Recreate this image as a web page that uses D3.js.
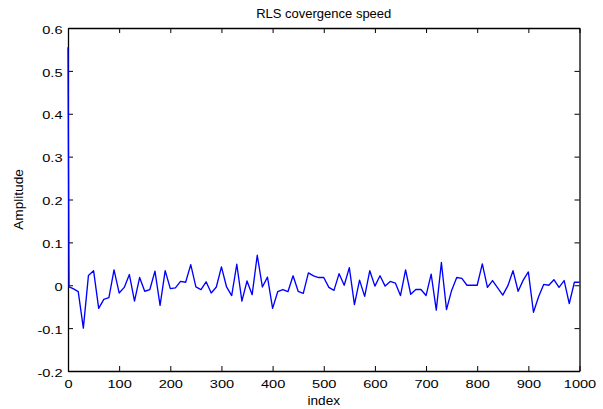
<!DOCTYPE html>
<html>
<head>
<meta charset="utf-8">
<script src="https://cdn.jsdelivr.net/npm/d3@7"></script>
<style>
  html, body { margin: 0; padding: 0; background: #fff; }
  svg { display: block; font-family: "Liberation Sans", Arial, Helvetica, sans-serif; }
</style>
</head>
<body>
<svg id="chart" width="603" height="409"></svg>
<script>
// ---- data ----
const indices = [0, 2, 10, 20, 30, 40, 50, 60, 70, 80, 90,
  100, 110, 120, 130, 140, 150, 160, 170, 180, 190,
  200, 210, 220, 230, 240, 250, 260, 270, 280, 290,
  300, 310, 320, 330, 340, 350, 360, 370, 380, 390,
  400, 410, 420, 430, 440, 450, 460, 470, 480, 490,
  500, 510, 520, 530, 540, 550, 560, 570, 580, 590,
  600, 610, 620, 630, 640, 650, 660, 670, 680, 690,
  700, 710, 720, 730, 740, 750, 760, 770, 780, 790,
  800, 810, 820, 830, 840, 850, 860, 870, 880, 890,
  900, 910, 920, 930, 940, 950, 960, 970, 980, 990, 1000];
const amplitude = [0.555, -0.004, -0.008, -0.015, -0.100, 0.023, 0.034, -0.054, -0.033, -0.029, 0.036,
  -0.018, -0.005, 0.025, -0.037, 0.018, -0.014, -0.010, 0.033, -0.047, 0.034,
  -0.008, -0.006, 0.009, 0.007, 0.048, -0.004, -0.010, 0.008, -0.018, -0.004,
  0.043, -0.004, -0.024, 0.049, -0.037, 0.010, -0.022, 0.070, -0.004, 0.019,
  -0.054, -0.015, -0.010, -0.015, 0.022, -0.014, -0.019, 0.029, 0.022, 0.018,
  0.018, -0.005, -0.012, 0.027, 0.000, 0.041, -0.045, 0.012, -0.026, 0.034,
  -0.002, 0.022, -0.002, 0.009, 0.005, -0.024, 0.036, -0.021, -0.010, -0.010,
  -0.024, 0.026, -0.058, 0.053, -0.057, -0.012, 0.018, 0.016, 0.000, 0.000,
  0.000, 0.050, -0.005, 0.011, -0.006, -0.023, -0.001, 0.034, -0.014, 0.012,
  0.031, -0.063, -0.027, 0.002, 0.000, 0.013, -0.005, 0.011, -0.043, 0.007, 0.007];
const xTicks = [0, 100, 200, 300, 400, 500, 600, 700, 800, 900, 1000];
const yTicks = [-0.2, -0.1, 0, 0.1, 0.2, 0.3, 0.4, 0.5, 0.6];
const yTickLabels = ["-0.2", "-0.1", "0", "0.1", "0.2", "0.3", "0.4", "0.5", "0.6"];
const titleText = "RLS covergence speed";
const xLabel = "index";
const yLabel = "Amplitude";

// ---- layout ----
const plotLeft = 68, plotRight = 579.5, plotTop = 28, plotBottom = 371;
const svg = d3.select("#chart");

const x = d3.scaleLinear().domain([0, 1000]).range([plotLeft, plotRight]);
const y = d3.scaleLinear().domain([-0.2, 0.6]).range([plotBottom, plotTop]);

const tickFont = 11.5;
const stretch = 1.27;   // tick glyphs in the reference are wider than Liberation Sans
const fontFam = "'Liberation Sans', Arial, Helvetica, sans-serif";

// axes
function styleAxis(g) {
  g.selectAll("path").attr("stroke", "#000").attr("stroke-width", 1.3);
  g.selectAll("line").attr("stroke", "#000").attr("stroke-width", 1);
  g.selectAll("text").attr("fill", "#000").attr("font-size", tickFont)
    .attr("font-family", fontFam);
}

svg.append("g").attr("transform", `translate(0,${plotBottom})`)
  .call(d3.axisBottom(x).tickValues(xTicks).tickFormat(d3.format("d"))
    .tickSize(-5).tickSizeOuter(0).tickPadding(9))
  .call(styleAxis)
  .call(g => g.selectAll("text").attr("transform", `scale(${stretch},1)`));

svg.append("g").attr("transform", `translate(0,${plotTop})`)
  .call(d3.axisTop(x).tickValues(xTicks).tickFormat("")
    .tickSize(-5).tickSizeOuter(0))
  .call(styleAxis);

svg.append("g").attr("transform", `translate(${plotLeft},0)`)
  .call(d3.axisLeft(y).tickValues(yTicks).tickFormat((d, i) => yTickLabels[i])
    .tickSize(-5).tickSizeOuter(0).tickPadding(6))
  .call(styleAxis)
  .call(g => g.selectAll("text")
    .attr("x", -5.5 / stretch).attr("dy", "0.45em")
    .attr("transform", `scale(${stretch},1)`));

svg.append("g").attr("transform", `translate(${plotRight},0)`)
  .call(d3.axisRight(y).tickValues(yTicks).tickFormat("")
    .tickSize(-5).tickSizeOuter(0))
  .call(styleAxis);

// line (drawn over the axes, as in the reference)
const line = d3.line().x((d, i) => x(indices[i])).y(d => y(d));
svg.append("path")
  .datum(amplitude)
  .attr("fill", "none")
  .attr("stroke", "#0000ff")
  .attr("stroke-width", 1.35)
  .attr("stroke-linejoin", "round")
  .attr("d", line);

// labels
function stretchedText(px, py, rot, size, sx, txt) {
  const g = svg.append("g")
    .attr("transform", `translate(${px},${py}) rotate(${rot}) scale(${sx},1)`);
  g.append("text")
    .attr("text-anchor", "middle").attr("font-size", size)
    .attr("font-family", fontFam).attr("fill", "#000")
    .text(txt);
}

stretchedText((plotLeft + plotRight) / 2, 18, 0, 13, 1.0, titleText);
stretchedText((plotLeft + plotRight) / 2, 405, 0, 13, 1.05, xLabel);
stretchedText(23, (plotTop + plotBottom) / 2, -90, 13, 1.05, yLabel);
</script>
</body>
</html>
